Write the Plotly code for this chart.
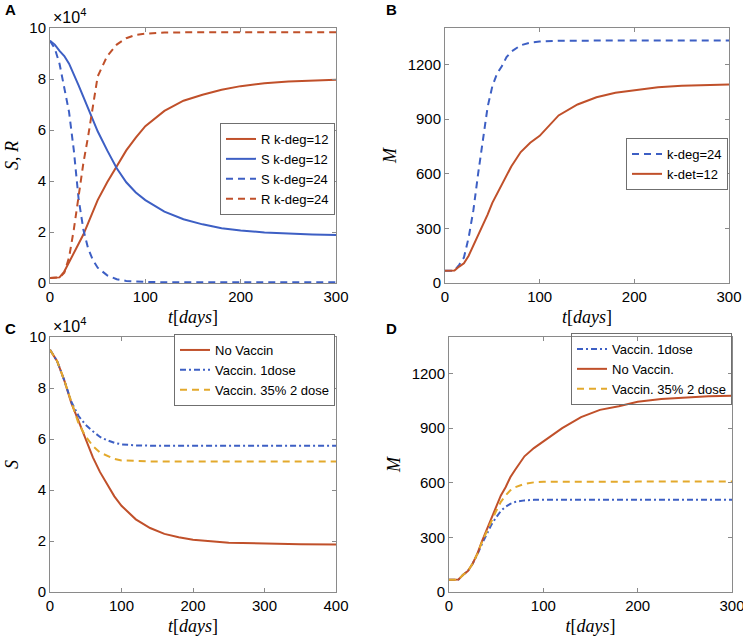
import plotly.graph_objects as go

# ---------------- data ----------------
# Panel A (values in units of 1e4)
t_A = [0, 5, 10, 15, 20, 25, 30, 35, 40, 45, 50, 60, 70, 80, 90, 100, 120, 140, 160, 180, 200, 225, 250, 275, 300]
R_kdeg12 = [0.2, 0.2, 0.22, 0.45, 0.8, 1.2, 1.55, 1.9, 2.35, 2.8, 3.25, 3.95, 4.6, 5.2, 5.7, 6.15, 6.75, 7.15, 7.38, 7.58, 7.72, 7.83, 7.9, 7.94, 7.97]
S_kdeg12 = [9.5, 9.35, 9.1, 8.9, 8.6, 8.2, 7.75, 7.3, 6.85, 6.4, 5.95, 5.2, 4.5, 3.95, 3.55, 3.25, 2.8, 2.5, 2.3, 2.15, 2.06, 1.98, 1.93, 1.9, 1.88]
S_kdeg24 = [9.5, 9.2, 8.6, 7.7, 6.7, 5.2, 3.3, 2.1, 1.35, 0.9, 0.6, 0.3, 0.15, 0.08, 0.05, 0.04, 0.03, 0.03, 0.03, 0.03, 0.03, 0.03, 0.03, 0.03, 0.03]
R_kdeg24 = [0.2, 0.2, 0.22, 0.4, 1.0, 2.1, 3.5, 4.7, 5.75, 7.0, 8.1, 8.9, 9.35, 9.6, 9.73, 9.78, 9.82, 9.83, 9.83, 9.83, 9.83, 9.83, 9.83, 9.83, 9.83]

# Panel B
t_B = [0, 5, 10, 15, 20, 25, 30, 35, 40, 45, 50, 55, 60, 65, 70, 80, 90, 100, 120, 140, 160, 180, 200, 225, 250, 275, 300]
M_kdeg24 = [67, 67, 68, 100, 140, 250, 400, 600, 790, 966, 1080, 1150, 1190, 1240, 1270, 1305, 1320, 1326, 1330, 1331, 1332, 1332, 1332, 1332, 1332, 1332, 1332]
M_kdet12 = [67, 67, 68, 90, 108, 150, 205, 260, 320, 375, 440, 490, 540, 595, 640, 719, 770, 808, 920, 980, 1020, 1045, 1060, 1075, 1083, 1088, 1090]

# Panel C (values in units of 1e4)
t_C = [0, 10, 20, 30, 40, 50, 60, 70, 80, 90, 100, 120, 140, 160, 180, 200, 250, 300, 350, 400]
S_novac = [9.5, 9.05, 8.3, 7.4, 6.7, 5.95, 5.28, 4.7, 4.25, 3.75, 3.38, 2.85, 2.51, 2.28, 2.15, 2.05, 1.93, 1.89, 1.87, 1.86]
S_vac1 = [9.5, 9.05, 8.3, 7.45, 6.9, 6.55, 6.3, 6.08, 5.95, 5.85, 5.79, 5.75, 5.74, 5.74, 5.74, 5.74, 5.74, 5.74, 5.74, 5.74]
S_vac2 = [9.5, 9.05, 8.3, 7.42, 6.6, 6.1, 5.72, 5.47, 5.35, 5.22, 5.16, 5.13, 5.12, 5.12, 5.12, 5.12, 5.12, 5.12, 5.12, 5.12]

# Panel D
t_D = [0, 5, 10, 15, 20, 25, 30, 35, 40, 45, 50, 55, 60, 65, 70, 80, 90, 100, 120, 140, 160, 180, 200, 225, 250, 275, 300]
M_vac1 = [67, 67, 68, 95, 115, 155, 205, 265, 320, 370, 410, 445, 468, 484, 494, 503, 506, 507, 507, 507, 507, 507, 507, 507, 507, 507, 507]
M_novac = [67, 67, 68, 95, 115, 155, 210, 280, 340, 400, 460, 530, 575, 630, 670, 745, 790, 825, 900, 960, 1000, 1020, 1045, 1060, 1068, 1075, 1078]
M_vac2 = [67, 67, 68, 95, 115, 155, 208, 275, 335, 390, 445, 495, 530, 558, 575, 594, 602, 605, 606, 606, 606, 606, 606, 606, 606, 606, 606]

# ---------------- style ----------------
RED = "#C0502A"
BLUE = "#3D5FC4"
YEL = "#E3A92C"
FRAME = "#8a8a8a"
SANS = "Liberation Sans, Arial, sans-serif"
SERIF = "Liberation Serif, Times New Roman, serif"
DASH = "7px,5px"
DASHDOT = "6px,3px,2px,3px"
W, H = 743, 636

def px_x(a, b):
    return [a / W, b / W]

def px_y(top, bot):
    return [1 - bot / H, 1 - top / H]

fig = go.Figure()

def add(x, y, name, color, dash, xa, ya, legend):
    fig.add_trace(go.Scatter(x=x, y=y, name=name, mode="lines",
                             line=dict(color=color, width=2, dash=dash),
                             xaxis=xa, yaxis=ya, legend=legend))

add(t_A, R_kdeg12, "R k-deg=12", RED, "solid", "x", "y", "legend")
add(t_A, S_kdeg12, "S k-deg=12", BLUE, "solid", "x", "y", "legend")
add(t_A, S_kdeg24, "S k-deg=24", BLUE, DASH, "x", "y", "legend")
add(t_A, R_kdeg24, "R k-deg=24", RED, DASH, "x", "y", "legend")

add(t_B, M_kdeg24, "k-deg=24", BLUE, DASH, "x2", "y2", "legend2")
add(t_B, M_kdet12, "k-det=12", RED, "solid", "x2", "y2", "legend2")

add(t_C, S_novac, "No Vaccin", RED, "solid", "x3", "y3", "legend3")
add(t_C, S_vac1, "Vaccin. 1dose", BLUE, DASHDOT, "x3", "y3", "legend3")
add(t_C, S_vac2, "Vaccin. 35% 2 dose", YEL, DASH, "x3", "y3", "legend3")

add(t_D, M_vac1, "Vaccin. 1dose", BLUE, DASHDOT, "x4", "y4", "legend4")
add(t_D, M_novac, "No Vaccin.", RED, "solid", "x4", "y4", "legend4")
add(t_D, M_vac2, "Vaccin. 35% 2 dose", YEL, DASH, "x4", "y4", "legend4")

tickfont = dict(family=SANS, size=15, color="black")
titlefont = dict(family=SERIF, size=18, color="black")

def xax(domain, rng, dtick, anchor):
    return dict(domain=domain, range=rng, dtick=dtick, anchor=anchor, automargin=False,
                showline=True, linecolor=FRAME, linewidth=1, mirror="ticks",
                ticks="inside", ticklen=4, tickcolor=FRAME, showgrid=False,
                zeroline=False, tickfont=tickfont, ticklabeloverflow="allow",
                title=dict(text="<i>t</i>[<i>days</i>]", font=titlefont, standoff=6))

def yax(domain, rng, dtick, anchor, title):
    return dict(domain=domain, range=rng, dtick=dtick, anchor=anchor, automargin=False,
                showline=True, linecolor=FRAME, linewidth=1, mirror="ticks",
                ticks="inside", ticklen=4, tickcolor=FRAME, showgrid=False,
                zeroline=False, tickfont=tickfont, ticklabeloverflow="allow",
                title=dict(text=title, font=titlefont, standoff=6))

dxA, dxB = px_x(50, 336), px_x(445, 729)
dxC, dxD = px_x(50, 336), px_x(449, 732)
dyTop, dyBot = px_y(28, 283), px_y(337, 592)

legbox = dict(bgcolor="white", bordercolor="#6f6f6f", borderwidth=1,
              font=dict(family=SANS, size=13, color="black"),
              xanchor="right", yanchor="top", tracegroupgap=0)

fig.update_layout(
    width=W, height=H, margin=dict(l=0, r=0, t=0, b=0),
    paper_bgcolor="white", plot_bgcolor="white", showlegend=True,
    xaxis=xax(dxA, [0, 300], 100, "y"),
    yaxis=yax(dyTop, [0, 10], 2, "x", "<i>S</i>, <i>R</i>"),
    xaxis2=xax(dxB, [0, 300], 100, "y2"),
    yaxis2=yax(dyTop, [0, 1400], 300, "x2", "<i>M</i>"),
    xaxis3=xax(dxC, [0, 400], 100, "y3"),
    yaxis3=yax(dyBot, [0, 10], 2, "x3", "<i>S</i>"),
    xaxis4=xax(dxD, [0, 300], 100, "y4"),
    yaxis4=yax(dyBot, [0, 1400], 300, "x4", "<i>M</i>"),
    legend=dict(legbox, x=335 / W, y=1 - 123 / H),
    legend2=dict(legbox, x=728 / W, y=1 - 138 / H),
    legend3=dict(legbox, x=335 / W, y=1 - 334 / H),
    legend4=dict(legbox, x=732 / W, y=1 - 333 / H, bgcolor="rgba(255,255,255,0)"),
)

ann = [
    ("<b>A</b>", 3, 10), ("<b>B</b>", 384, 10),
    ("<b>C</b>", 3, 328), ("<b>D</b>", 384, 328),
]
for txt, x, y in ann:
    fig.add_annotation(text=txt, x=x / W, y=1 - y / H, xref="paper", yref="paper",
                       xanchor="left", yanchor="middle", showarrow=False,
                       font=dict(family=SANS, size=15, color="black"))

for ytop in (28, 337):
    fig.add_annotation(text="×10<sup>4</sup>", x=51 / W, y=1 - ytop / H,
                       xref="paper", yref="paper", xanchor="left", yanchor="bottom",
                       showarrow=False, font=dict(family=SANS, size=16, color="black"))

fig.write_html("out.html", config={"displayModeBar": False},
               post_script="document.body.style.margin='0px';document.body.style.overflow='hidden';")
